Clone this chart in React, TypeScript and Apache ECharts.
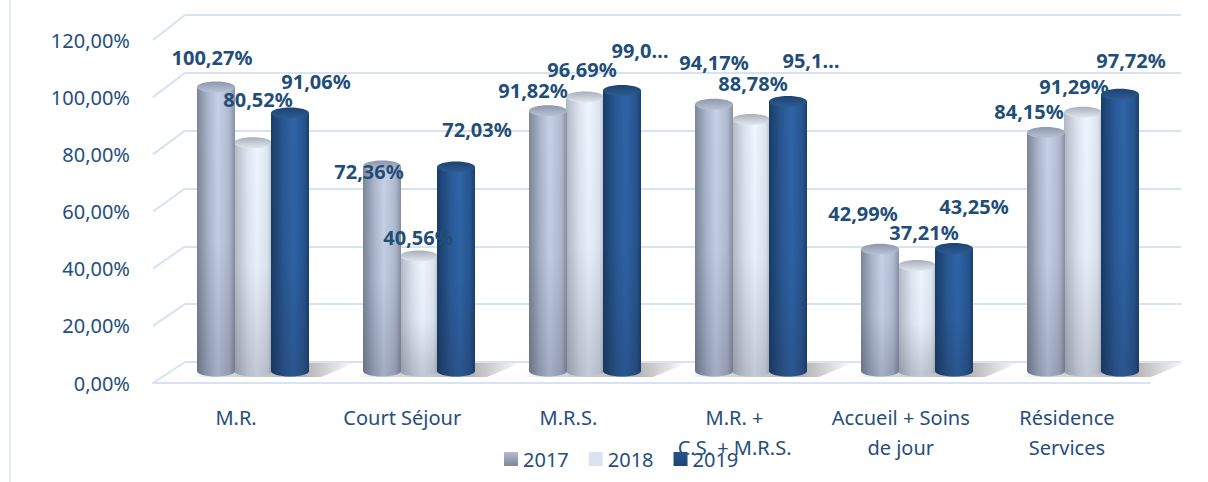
import React, { useEffect, useRef } from "react";
import * as echarts from "echarts";

const categories = [
  "M.R.",
  "Court Séjour",
  "M.R.S.",
  "M.R. +\nC.S. + M.R.S.",
  "Accueil + Soins\nde jour",
  "Résidence\nServices",
];
const years = ["2017", "2018", "2019"];
const values2017 = [100.27, 72.36, 91.82, 94.17, 42.99, 84.15];
const values2018 = [80.52, 40.56, 96.69, 88.78, 37.21, 91.29];
const values2019 = [91.06, 72.03, 99.04, 95.12, 43.25, 97.72];
const yTicks = [0, 20, 40, 60, 80, 100, 120];
// labels that the original chart shows truncated: [yearIndex, categoryIndex]
const truncatedLabels = [
  [2, 2],
  [2, 3],
];

// label nudges (style only): [dx, dy] relative to the top of each bar
const labelNudge2017 = [[-4, -29], [-13, 6], [-15, -20], [0, -42], [-17, -36], [-17, -21]];
const labelNudge2018 = [[5, -43], [-1, -19], [-3, -28], [2, -36], [7, -33], [-9, -26]];
const labelNudge2019 = [[26, -31], [21, -37], [18, -40], [23, -41], [20, -42], [11, -34]];

const seriesValues = [values2017, values2018, values2019];
const labelNudges = [labelNudge2017, labelNudge2018, labelNudge2019];

const FONT = "'Noto Sans', 'Open Sans', sans-serif";
const TEXT_COLOR = "#1f4e79";
const AXIS_COLOR = "#254e7d";
const GRID_LINE = "#d7e3f4";

const BACK = { left: 185, right: 27, top: 15, bottom: 120 };
const FRONT = { left: 153, right: 58, top: 40, bottom: 99 };
const BARS = { left: 170, right: 42, top: 31, bottom: 111 };

const BAR_W = 38;
const BAR_STEP = 37;
const RY = 5.5;

const bodyStops = [
  [[0, "#7c8598"], [0.3, "#abb6cc"], [0.55, "#c6d1e8"], [0.85, "#b0bacf"], [1, "#878fa3"]],
  [[0, "#b1b8c3"], [0.35, "#dce4ef"], [0.6, "#edf5ff"], [0.88, "#dde5f0"], [1, "#b9c0cb"]],
  [[0, "#183c68"], [0.35, "#295995"], [0.6, "#2e64a8"], [0.88, "#26548e"], [1, "#1a3f6e"]],
];
const topStops = [
  ["#8d96aa", "#b9c3d8"],
  ["#a8afb9", "#e2e8ef"],
  ["#1c4371", "#2d5b92"],
];

const hGrad = (stops: any[]) =>
  new echarts.graphic.LinearGradient(0, 0, 1, 0, stops.map((s) => ({ offset: s[0], color: s[1] })));
const vGrad = (a: string, b: string) =>
  new echarts.graphic.LinearGradient(0, 0, 0, 1, [
    { offset: 0, color: a },
    { offset: 1, color: b },
  ]);

const fmt = (v: number) => v.toFixed(2).replace(".", ",") + "%";

function cylinderRenderer(si: number) {
  return (params: any, api: any) => {
    const ci = api.value(0);
    const v = api.value(1);
    const top = api.coord([ci, v]);
    const base = api.coord([ci, 0]);
    const cx = top[0] + (si - 1) * BAR_STEP;
    const x0 = cx - BAR_W / 2;
    const h = base[1] - top[1];
    return {
      type: "group",
      children: [
        { type: "ellipse", shape: { cx, cy: base[1], rx: BAR_W / 2, ry: RY }, style: { fill: hGrad(bodyStops[si]) } },
        { type: "ellipse", shape: { cx, cy: base[1], rx: BAR_W / 2, ry: RY }, style: { fill: "rgba(30,34,55,0.2)" } },
        { type: "rect", shape: { x: x0, y: top[1], width: BAR_W, height: h }, style: { fill: hGrad(bodyStops[si]) } },
        {
          type: "rect",
          shape: { x: x0, y: top[1], width: BAR_W, height: h },
          style: {
            fill: new echarts.graphic.LinearGradient(0, 0, 0, 1, [
              { offset: 0, color: "rgba(30,34,55,0)" },
              { offset: 0.55, color: "rgba(30,34,55,0.03)" },
              { offset: 1, color: "rgba(30,34,55,0.2)" },
            ]),
          },
        },
        {
          type: "ellipse",
          shape: { cx, cy: top[1], rx: BAR_W / 2, ry: RY },
          style: { fill: vGrad(topStops[si][0], topStops[si][1]) },
        },
      ],
    };
  };
}

function labelRenderer(si: number) {
  return (params: any, api: any) => {
    const ci = api.value(0);
    const v = api.value(1);
    const top = api.coord([ci, v]);
    const cx = top[0] + (si - 1) * BAR_STEP;
    const nudge = labelNudges[si][ci];
    let text = fmt(v);
    if (truncatedLabels.some((t) => t[0] === si && t[1] === ci)) text = text.slice(0, 4) + "…";
    return {
      type: "text",
      style: {
        text,
        x: cx + nudge[0],
        y: top[1] + nudge[1],
        align: "center",
        verticalAlign: "middle",
        fill: TEXT_COLOR,
        fontSize: 20,
        fontWeight: "bold",
        fontFamily: FONT,
      },
    };
  };
}

function shadowRenderer(params: any, api: any) {
  const ci = api.value(0);
  const p = api.coord([ci, 0]);
  const g = p[0];
  const by = p[1];
  return {
    type: "polygon",
    shape: {
      points: [
        [g - 64, by + 6],
        [g + 68, by + 6],
        [g + 102, by - 8],
        [g - 32, by - 8],
      ],
    },
    style: {
      fill: new echarts.graphic.LinearGradient(0, 0, 1, 0, [
        { offset: 0, color: "rgba(0,0,0,0)" },
        { offset: 0.15, color: "rgba(0,0,0,0.13)" },
        { offset: 0.7, color: "rgba(0,0,0,0.3)" },
        { offset: 1, color: "rgba(0,0,0,0)" },
      ]),
    },
  };
}

export default function App() {
  const ref = useRef<HTMLDivElement>(null);
  useEffect(() => {
    if (!ref.current) return;
    const chart = echarts.init(ref.current, undefined, { renderer: "svg" });
    const cylSeries = years.map((y, si) => ({
      name: y,
      type: "custom",
      xAxisIndex: 2,
      yAxisIndex: 2,
      z: si === 1 ? 2 : 3,
      clip: false,
      itemStyle: { color: bodyStops[si][2][1] },
      renderItem: cylinderRenderer(si),
      data: seriesValues[si].map((v, i) => [i, v]),
    }));
    const labelSeries = years.map((y, si) => ({
      name: y + " labels",
      type: "custom",
      xAxisIndex: 2,
      yAxisIndex: 2,
      z: 10,
      clip: false,
      renderItem: labelRenderer(si),
      data: seriesValues[si].map((v, i) => [i, v]),
    }));
    const option: any = {
      animation: false,
      textStyle: { fontFamily: FONT },
      grid: [
        { ...BACK },
        { ...FRONT },
        { ...BARS },
      ],
      xAxis: [
        { type: "category", gridIndex: 0, data: categories, show: false },
        {
          type: "category",
          gridIndex: 1,
          data: categories,
          axisLine: { show: true, lineStyle: { color: GRID_LINE, width: 2 } },
          axisTick: { show: false },
          axisLabel: {
            interval: 0,
            margin: 19,
            fontSize: 20,
            lineHeight: 30,
            color: AXIS_COLOR,
            fontFamily: FONT,
          },
        },
        { type: "category", gridIndex: 2, data: categories, show: false },
      ],
      yAxis: [
        {
          type: "value",
          gridIndex: 0,
          min: 0,
          max: 120,
          interval: 20,
          axisLabel: { show: false },
          axisLine: { show: false },
          axisTick: { show: false },
          splitLine: { show: true, lineStyle: { color: GRID_LINE, width: 2 } },
        },
        {
          type: "value",
          gridIndex: 1,
          min: 0,
          max: 120,
          interval: 20,
          axisLine: { show: false },
          axisTick: { show: false },
          splitLine: { show: false },
          axisLabel: {
            margin: 23,
            fontSize: 20,
            color: AXIS_COLOR,
            fontFamily: FONT,
            formatter: (v: number) => fmt(v),
          },
        },
        { type: "value", gridIndex: 2, min: 0, max: 120, show: false, splitLine: { show: false } },
      ],
      legend: {
        data: years.map((y, si) => ({
          name: y,
          itemStyle: {
            color:
              si === 0
                ? vGrad("#b3bcd0", "#7e8799")
                : si === 1
                ? "#dae3ef"
                : vGrad("#245389", "#1c4676"),
          },
        })),
        left: 499,
        top: 444,
        icon: "rect",
        itemWidth: 14,
        itemHeight: 14,
        itemGap: 20,
        textStyle: { fontSize: 20, color: AXIS_COLOR, fontFamily: FONT },
        selectedMode: false,
      },
      series: [
        {
          name: "floor shadow",
          type: "custom",
          xAxisIndex: 2,
          yAxisIndex: 2,
          z: 1,
          clip: false,
          silent: true,
          renderItem: shadowRenderer,
          data: categories.map((_, i) => [i, 0]),
        },
        ...cylSeries,
        ...labelSeries,
      ],
    };
    chart.setOption(option);

    const diagonals = yTicks.map((v) => {
      const fy = chart.convertToPixel({ yAxisIndex: 1 }, v) as number;
      const by = chart.convertToPixel({ yAxisIndex: 0 }, v) as number;
      return {
        type: "line",
        z: 0,
        shape: { x1: FRONT.left, y1: fy, x2: BACK.left, y2: by },
        style: { stroke: GRID_LINE, lineWidth: 2 },
      };
    });
    chart.setOption({
      graphic: [
        ...diagonals,
        {
          type: "line",
          shape: { x1: 10, y1: 0, x2: 10, y2: 482 },
          style: { stroke: "#dbe5f2", lineWidth: 1.5 },
        },
      ],
    });
    return () => chart.dispose();
  }, []);
  return (
    <div
      ref={ref}
      style={{ position: "absolute", left: 0, top: 0, width: 1208, height: 482, background: "#ffffff" }}
    />
  );
}
